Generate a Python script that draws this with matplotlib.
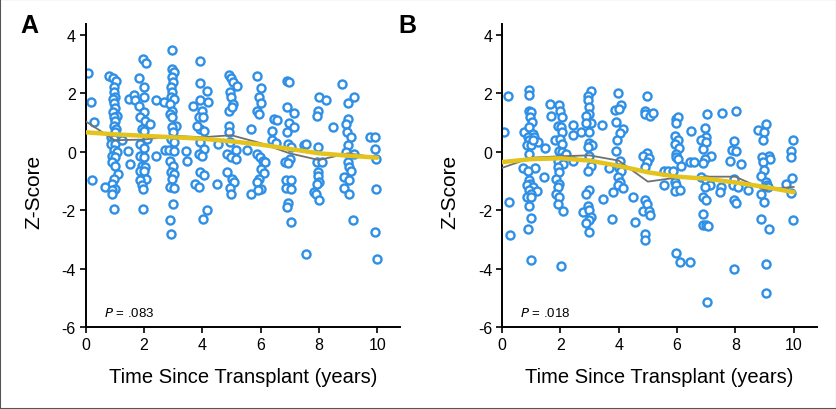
import matplotlib
matplotlib.use("Agg")
import matplotlib.pyplot as plt
from matplotlib.patches import Rectangle

# ---------------- data ----------------
# Panel A scatter (years, z-score)
a_x = [0.07, 0.2, 0.28, 0.22,
       0.79, 0.94, 1.06, 0.99, 0.96, 1.02, 0.94, 0.99, 1.02, 0.94, 1.08, 0.96, 1.02, 0.96, 1.06, 1.02,
       0.87, 0.96, 0.87, 1.02, 1.25, 0.96, 1.08, 0.91, 1.02, 0.91, 1.02, 1.1, 0.96, 0.91, 0.68, 1.02,
       0.91, 0.91, 0.99,
       1.48, 1.45, 1.51, 1.65, 1.71,
       1.82, 1.97, 2.09, 2.02, 2.0, 1.82, 2.0, 1.88, 2.05, 1.94, 2.02, 2.11, 1.88, 2.02, 1.88, 2.0,
       1.94, 2.05, 1.88, 2.02, 2.09, 1.88, 1.94, 1.97, 1.97, 2.22,
       2.43, 2.68, 2.43, 2.74,
       2.98, 2.98, 3.03, 2.97, 3.0, 2.94, 2.97, 2.94, 3.03, 2.91, 2.97, 2.91, 2.97, 3.09, 2.97, 3.0,
       2.94, 3.03, 2.86, 3.05, 2.91, 3.0, 2.94, 3.05, 2.97, 2.89, 3.05, 3.0, 2.89, 2.94,
       3.43, 3.49, 3.69, 3.77, 3.89,
       3.94, 3.92, 4.17, 3.92, 4.2, 4.0, 3.89, 4.04, 3.92, 4.08, 3.92, 4.06, 3.89, 4.0, 3.94, 4.06,
       4.04, 4.17, 3.83,
       4.54, 4.52,
       4.92, 5.0, 5.07, 5.18, 4.95, 4.98, 5.07, 4.92, 5.03, 4.92, 4.92, 4.95, 5.15, 4.86, 4.98, 5.15,
       4.86, 5.03, 5.09, 4.95, 5.0,
       5.55, 5.69, 5.69,
       5.89, 6.01, 5.95, 6.03, 5.89, 5.95, 5.87, 5.99, 6.07, 6.15, 6.03, 6.12, 5.95, 5.89, 6.03, 5.91,
       6.47, 6.58, 6.41, 6.41, 6.53,
       6.9, 6.98, 6.9, 7.16, 6.98, 7.16, 6.9, 6.95, 7.06, 7.02, 6.83, 6.93, 6.87, 7.04, 6.87, 7.04,
       6.95, 6.9, 7.06,
       7.5, 7.56, 7.56, 7.84,
       8.02, 8.25, 7.98, 7.94, 7.96, 7.94, 8.1, 7.96, 7.98, 8.02, 7.94, 7.9, 8.02, 8.47,
       8.8, 9.22, 9.0, 9.0, 8.94, 8.98, 9.11, 9.0, 8.94, 9.22, 9.0, 9.05, 9.11, 8.88, 9.05, 8.88,
       9.03, 9.16,
       9.77, 9.93, 9.93, 9.97, 9.97, 9.93, 10.0]
a_y = [2.69, 1.70, 1.01, -0.97,
       2.59, 2.52, 2.44, 2.23, 2.04, 1.87, 1.81, 1.66, 1.5, 1.36, 1.24, 1.19, 1.05, 0.9, 0.79, 0.67,
       0.5, 0.44, 0.27, 0.27, 0.39, 0.05, -0.01, -0.13, -0.18, -0.35, -0.47, -0.75, -0.92, -1.09, -1.19, -1.27,
       -1.32, -1.44, -1.96,
       1.81, 0.02, -0.41, 1.96, 1.76,
       2.53, 3.17, 3.03, 2.23, 1.89, 1.58, 1.36, 1.21, 1.07, 0.79, 0.73, 0.44, 0.27, 0.14, -0.13, -0.18,
       -0.47, -0.52, -0.64, -0.64, -0.92, -0.98, -1.15, -1.27, -1.95, 0.96,
       1.76, 1.72, -0.13, 0.05,
       3.5, 2.84, 2.73, 2.55, 2.38, 2.21, 2.04, 1.87, 1.81, 1.64, 1.41, 1.3, 1.19, 0.9, 0.84, 0.67,
       0.44, 0.33, 0.05, 0.02, -0.3, -0.47, -0.7, -0.75, -0.92, -1.21, -1.23, -1.78, -2.33, -2.82,
       0.02, -0.32, 1.58, -1.09, -1.19,
       3.12, 2.35, 2.08, 1.76, 1.7, 1.41, 1.19, 1.19, 0.79, 0.73, 0.33, 0.1, -0.07, -0.13, -0.7, -0.78,
       -2.29, -2.0, 0.87,
       0.27, -1.09,
       2.63, 2.53, 2.38, 2.27, 2.04, 1.89, 1.64, 1.41, 1.53, 0.9, 0.67, 0.33, 0.05, -0.07, -0.18, -0.24,
       -0.7, -0.92, -1.04, -1.23, -1.44,
       0.05, 0.79, -1.46,
       2.59, 2.19, 1.87, 1.66, 1.41, 1.3, -0.07, -0.18, -0.3, -0.35, -0.58, -0.73, -0.92, -1.04, -1.27, -1.32,
       1.13, 1.09, 0.73, 0.41, 0.3,
       2.42, 2.38, 1.53, 1.32, 0.98, 0.84, 0.67, 0.27, 0.16, -0.24, -0.35, -0.39, -0.98, -0.98, -1.23, -1.27,
       -1.76, -1.89, -2.41,
       0.22, 0.27, -3.49, -1.38,
       1.89, 1.78, 1.41, 1.24, 0.18, -0.35, -0.35, -0.7, -0.81, -1.04, -1.09, -1.44, -1.66, 0.84,
       2.33, 1.89, 1.66, 1.13, 0.96, 0.67, 0.52, 0.22, -0.01, -0.07, -0.35, -0.52, -0.64, -0.87, -0.96, -1.23,
       -1.44, -2.33,
       0.5, 0.5, 0.1, -0.24, -1.27, -2.75, -3.66]

# Panel B scatter
b_x = [0.07, 0.21, 0.23, 0.29,
       0.92, 0.92, 0.94, 1.0, 0.96, 1.03, 0.77, 0.94, 1.05, 0.88, 1.11, 0.94, 0.85, 1.0, 1.22, 1.05,
       0.94, 0.71, 1.14, 0.88, 0.92, 0.96, 0.85, 1.05, 0.92, 1.2, 1.0, 0.85, 1.0, 0.94, 1.01, 0.89,
       0.98, 1.43, 1.48,
       1.65, 1.68, 1.97, 2.0, 2.06, 1.91, 2.03, 2.06, 1.83, 2.0, 2.06, 1.97, 2.06, 2.1, 1.91, 2.08,
       1.91, 1.97, 1.85, 1.95, 1.91, 1.85, 1.95, 1.91, 2.1, 2.03, 2.2,
       2.43, 2.43, 2.45, 2.71, 2.77,
       3.05, 2.94, 2.94, 2.97, 3.0, 2.88, 3.05, 2.88, 2.97, 3.0, 3.09, 2.94, 3.0, 3.05, 2.94, 3.0,
       2.88, 2.94, 3.0, 3.05, 3.0, 2.88, 2.97,
       3.43, 3.48, 3.68, 3.78,
       3.97, 4.09, 3.89, 4.0, 3.91, 4.14, 4.03, 3.93, 3.91, 4.03, 4.0, 4.09, 3.97, 4.05, 3.97, 4.14,
       3.82,
       4.5, 4.55,
       4.97, 4.92, 4.89, 5.06, 5.17, 4.97, 4.83, 5.03, 4.97, 4.89, 4.92, 4.97, 4.83, 5.03, 5.08, 4.89,
       4.89,
       5.54, 5.68, 5.54, 5.97, 6.03, 5.95, 5.92, 6.03, 5.92, 6.06, 5.97, 5.95, 6.03, 6.14, 5.86, 5.92,
       5.97, 5.92, 6.11, 5.95, 6.11,
       6.49, 6.45, 6.57, 6.46,
       7.03, 6.95, 7.0, 6.83, 7.0, 6.88, 7.17, 6.95, 6.88, 6.83, 7.0, 7.14, 6.95, 6.88, 6.98, 6.9,
       6.88, 7.0, 7.06, 7.03,
       7.55, 7.51, 7.48, 7.83,
       8.01, 7.97, 7.89, 8.01, 8.2, 7.97, 7.92, 8.09, 7.97, 8.01, 7.97, 8.43,
       8.78, 9.04, 8.97, 8.95, 9.17, 8.93, 9.2, 8.95, 9.0, 8.89, 9.04, 9.09, 8.89, 8.97, 8.89, 9.17,
       9.04, 9.04, 9.13,
       9.98, 9.92, 9.92, 9.75, 9.95, 9.92, 9.98]
b_y = [0.67, 1.9, -1.71, -2.86,
       2.13, 1.96, 1.41, 1.36, 1.19, 1.01, 0.67, 0.84, 0.62, 0.5, 0.5, 0.39, 0.22, 0.22, 0.33, 0.39,
       -0.07, -0.55, -0.55, -0.64, -0.98, -1.09, -1.15, -1.19, -1.32, -1.35, -1.44, -1.55, -1.53, -1.86, -2.26, -2.63,
       -3.72, -0.87, 0.14,
       1.63, 1.22, 1.6, 1.41, 1.21, 0.9, 0.84, 0.67, 0.39, 0.44, 0.27, 0.02, -0.01, -0.18, -0.3, -0.41,
       -0.52, -0.7, -0.92, -1.09, -1.21, -1.44, -1.55, -1.8, -2.04, -3.92, -0.07,
       0.92, 0.59, -0.3, 0.67, -2.06,
       2.08, 1.92, 1.76, 1.53, 1.3, 1.24, 0.98, 0.98, 0.67, 0.3, 0.22, 0.16, -0.13, -0.47, -0.64, -1.3,
       -1.44, -1.84, -1.98, -2.23, -2.33, -2.44, -2.75,
       0.92, -1.63, -0.55, -2.29,
       2.02, 1.62, 1.45, 1.47, 1.03, 0.79, 0.64, 0.41, 0.02, -0.3, -0.55, -0.64, -0.87, -1.04, -1.15, -1.23,
       -1.38,
       -1.55, -2.42,
       1.93, 1.41, 1.28, 1.24, 1.32, -0.05, -0.13, -0.21, -0.35, -0.52, -1.66, -1.78, -2.01, -2.01, -2.18, -2.83,
       -3.01,
       -0.64, -0.64, -1.15, 1.13, 1.19, 0.98, 0.56, 0.41, 0.27, 0.14, -0.07, -0.18, -0.24, -0.47, -0.64, -1.04,
       -1.15, -1.35, -1.3, -3.47, -3.77,
       0.71, -0.35, -0.35, -3.77,
       1.3, 0.82, 0.52, 0.39, 0.33, 0.1, -0.13, -0.24, -0.39, -0.87, -0.96, -1.12, -1.19, -1.55, -1.65, -2.12,
       -2.51, -2.52, -2.55, -5.14,
       1.32, -1.19, -1.38, -0.3,
       1.41, 0.36, 0.05, 0.02, -0.41, -0.92, -1.15, -1.19, -1.64, -1.76, -4.0, -1.32,
       0.75, 0.96, 0.67, 0.39, -0.13, -0.18, -0.24, -0.35, -0.62, -0.81, -1.04, -1.15, -1.46, -1.72, -2.29, -2.63,
       -3.83, -4.83, -1.21,
       0.42, 0.02, -0.18, -1.09, -0.89, -1.41, -2.33]

# Smoothed lines read at each year
years = [0, 1, 2, 3, 4, 5, 6, 7, 8, 9, 10]
a_gray = [1.05, 0.40, 0.42, 0.55, 0.50, 0.57, 0.30, -0.05, -0.28, -0.05, -0.20]
a_yellow = [0.67, 0.60, 0.55, 0.50, 0.45, 0.36, 0.25, 0.10, -0.05, -0.13, -0.20]
b_gray = [-0.55, -0.20, -0.15, -0.12, -0.30, -1.02, -0.88, -0.85, -0.85, -1.30, -1.20]
b_yellow = [-0.35, -0.25, -0.22, -0.30, -0.48, -0.70, -0.85, -0.92, -1.05, -1.20, -1.38]

panels = ["A", "B"]
p_values = [".083", ".018"]
x_ticks = [0, 2, 4, 6, 8, 10]
y_ticks = [4, 2, 0, -2, -4, -6]
xlabel = "Time Since Transplant (years)"
ylabel = "Z-Score"

# ---------------- drawing ----------------
W, H = 837, 410
fig = plt.figure(figsize=(W / 100, H / 100), dpi=100)
fig.patches.append(Rectangle((0, 0), 1, 1, transform=fig.transFigure, fill=False,
                             edgecolor="#555555", linewidth=1.5))

normal = ["Liberation Sans", "DejaVu Sans"]

blue = "#2E8FE6"
yellow = "#E3C31C"
gray = "#707070"

lefts = [85.5, 502.0]
ax_w = 315.0
bottom_px, top_px = 328.0, 25.0
data = [(a_x, a_y, a_gray, a_yellow), (b_x, b_y, b_gray, b_yellow)]

for i, (xs, ys, gl, yl) in enumerate(data):
    ax = fig.add_axes([lefts[i] / W, 1 - bottom_px / H, ax_w / W, (bottom_px - top_px) / H])
    ax.plot(xs, ys, linestyle="none", marker="o", markersize=5.8, markerfacecolor="white",
            markeredgecolor=blue, markeredgewidth=1.7, zorder=2)
    ax.plot(years, gl, color=gray, linewidth=1.3, zorder=3)
    ax.plot(years, yl, color=yellow, linewidth=3.2, solid_capstyle="round", zorder=4)
    ax.set_xlim(0, 10.8)
    ax.set_ylim(-6, 4.38)
    ax.set_xticks(x_ticks)
    ax.set_yticks(y_ticks)
    ax.set_xticklabels([str(t) for t in x_ticks], family=normal, fontsize=11.5)
    ax.set_yticklabels([str(t) for t in y_ticks], family=normal, fontsize=11.5)
    ax.tick_params(direction="out", length=4, width=1.2, pad=3)
    for s in ["top", "right"]:
        ax.spines[s].set_visible(False)
    for s in ["left", "bottom"]:
        ax.spines[s].set_linewidth(1.4)
    ax.set_xlabel(xlabel, family=normal, fontsize=14.5)
    ax.xaxis.set_label_coords(0.5, -0.165)
    ax.xaxis.label.set_va("center")
    ax.set_ylabel(ylabel, family=normal, fontsize=15)
    ax.yaxis.set_label_coords(-0.165, 0.45)
    ax.yaxis.label.set_va("center")
    ax.text(0.058, 0.048, "$P$ = " + p_values[i], transform=ax.transAxes, fontsize=9.5,
            family=normal, ha="left", va="center")
    ax.set_facecolor("none")

fig.text(20 / W, 1 - 26 / H, panels[0], family=normal, fontweight="bold", fontsize=18,
         ha="left", va="center")
fig.text(398 / W, 1 - 26 / H, panels[1], family=normal, fontweight="bold", fontsize=18,
         ha="left", va="center")

fig.savefig("out.png", dpi=100)
